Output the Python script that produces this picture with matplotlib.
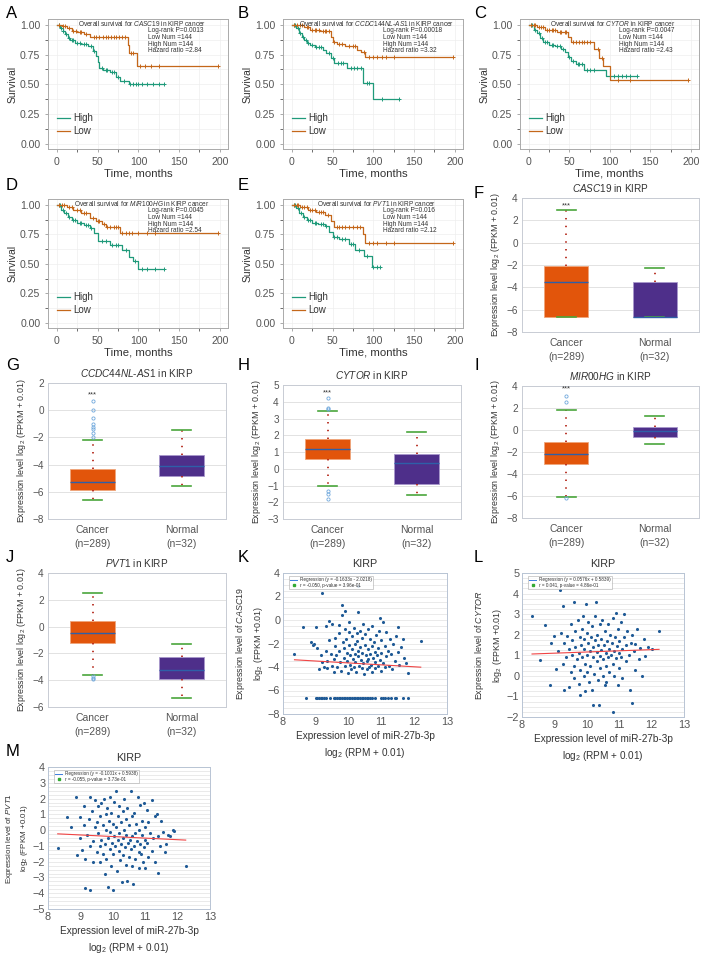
import numpy as np
import matplotlib
matplotlib.use('Agg')
import matplotlib.pyplot as plt
from matplotlib.lines import Line2D
from matplotlib.ticker import MultipleLocator

plt.rcParams['font.family'] = ['Liberation Sans', 'DejaVu Sans']
plt.rcParams['mathtext.fontset'] = 'custom'
plt.rcParams['mathtext.rm'] = 'Liberation Sans'
plt.rcParams['mathtext.it'] = 'Liberation Sans:italic'
plt.rcParams['text.color'] = '#333333'
plt.rcParams['axes.labelcolor'] = '#333333'
plt.rcParams['xtick.color'] = '#555555'
plt.rcParams['ytick.color'] = '#555555'

# ---------------------------------------------------------------------------
# DATOS: curvas de supervivencia (tiempos de evento, supervivencia, censuras)

A_high_t = [0, 4, 7, 10, 13, 16, 22, 30, 38, 44, 48, 50, 52, 57, 65, 72, 78, 88]
A_high_s = [1.0, 0.97, 0.95, 0.92, 0.89, 0.87, 0.85, 0.84, 0.82, 0.78, 0.74, 0.69, 0.64, 0.62, 0.60, 0.56, 0.53, 0.50]
A_high_c = [2, 5, 8, 11, 15, 18, 20, 25, 28, 33, 36, 42, 46, 55, 60, 62, 68, 70, 75, 82, 90, 93, 97, 100, 105, 110, 118, 125, 132]
A_low_t = [0, 6, 12, 18, 25, 33, 40, 87, 89, 98]
A_low_s = [1.0, 0.99, 0.97, 0.95, 0.94, 0.92, 0.90, 0.83, 0.76, 0.65]
A_low_c = [3, 8, 10, 15, 20, 23, 28, 30, 36, 45, 48, 52, 56, 60, 63, 66, 70, 73, 76, 80, 84, 91, 93, 102, 108, 115, 125, 198]

B_high_t = [0, 5, 9, 12, 15, 18, 22, 28, 38, 42, 48, 52, 68, 87, 100]
B_high_s = [1.0, 0.97, 0.93, 0.90, 0.87, 0.85, 0.83, 0.81, 0.79, 0.76, 0.72, 0.68, 0.64, 0.51, 0.38]
B_high_c = [2, 4, 7, 10, 14, 17, 20, 25, 30, 33, 36, 45, 50, 56, 60, 63, 72, 76, 80, 85, 92, 95, 110, 132]
B_low_t = [0, 15, 22, 35, 48, 50, 55, 65, 80, 85, 90]
B_low_s = [1.0, 0.98, 0.96, 0.95, 0.90, 0.86, 0.84, 0.82, 0.79, 0.77, 0.73]
B_low_c = [3, 6, 10, 12, 18, 20, 25, 28, 30, 33, 38, 40, 42, 45, 52, 58, 62, 70, 75, 78, 88, 95, 100, 105, 110, 115, 125, 198]

C_high_t = [0, 6, 10, 14, 18, 25, 32, 40, 45, 48, 52, 58, 68, 95]
C_high_s = [1.0, 0.96, 0.93, 0.89, 0.86, 0.83, 0.82, 0.80, 0.77, 0.73, 0.70, 0.67, 0.62, 0.57]
C_high_c = [2, 4, 8, 12, 16, 20, 22, 28, 30, 35, 38, 42, 50, 55, 60, 62, 65, 72, 75, 80, 100, 105, 110, 115, 120, 125, 133]
C_low_t = [0, 10, 20, 35, 48, 52, 80, 87, 92, 100]
C_low_s = [1.0, 0.98, 0.96, 0.94, 0.90, 0.86, 0.80, 0.72, 0.65, 0.54]
C_low_c = [3, 6, 8, 12, 15, 18, 22, 25, 28, 30, 32, 38, 40, 44, 46, 55, 58, 62, 65, 68, 72, 75, 85, 90, 110, 125, 197]

D_high_t = [0, 5, 9, 13, 18, 25, 33, 40, 45, 50, 65, 80, 88, 93, 100]
D_high_s = [1.0, 0.96, 0.93, 0.90, 0.87, 0.85, 0.83, 0.80, 0.76, 0.69, 0.66, 0.62, 0.56, 0.52, 0.46]
D_high_c = [2, 4, 7, 11, 15, 20, 22, 28, 30, 36, 38, 42, 55, 60, 68, 72, 75, 85, 96, 105, 110, 120, 132]
D_low_t = [0, 12, 20, 30, 40, 48, 55, 60, 78]
D_low_s = [1.0, 0.98, 0.96, 0.93, 0.89, 0.86, 0.84, 0.81, 0.76]
D_low_c = [3, 6, 9, 15, 18, 25, 28, 33, 36, 44, 50, 52, 58, 62, 65, 70, 72, 75, 80, 85, 88, 92, 100, 110, 120, 198]

E_high_t = [0, 5, 9, 13, 18, 25, 32, 40, 46, 50, 58, 70, 78, 88, 98]
E_high_s = [1.0, 0.97, 0.93, 0.90, 0.87, 0.85, 0.84, 0.82, 0.77, 0.73, 0.71, 0.67, 0.62, 0.57, 0.47]
E_high_c = [2, 4, 7, 11, 15, 20, 22, 28, 30, 36, 38, 42, 52, 55, 62, 65, 72, 75, 82, 92, 100, 104, 108]
E_low_t = [0, 10, 20, 30, 40, 48, 52, 87, 90]
E_low_s = [1.0, 0.98, 0.96, 0.94, 0.91, 0.86, 0.81, 0.75, 0.68]
E_low_c = [3, 6, 8, 12, 15, 18, 22, 25, 28, 33, 36, 38, 44, 55, 58, 62, 65, 70, 75, 80, 84, 95, 100, 105, 115, 125, 198]

surv_genes = ['CASC19', 'CCDC144NL-AS1', 'CYTOR', 'MIR100HG', 'PVT1']
surv_p = ['0.0013', '0.00018', '0.0047', '0.0045', '0.016']
surv_hr = ['2.84', '3.32', '2.43', '2.54', '2.12']

# DATOS: diagramas de caja (q1, mediana, q3, bigotes, atipicos)
box_genes = ['CASC19', 'CCDC44NL-AS1', 'CYTOR', 'MIR00HG', 'PVT1']
box_groups = ['Cancer\n(n=289)', 'Normal\n(n=32)']
F_cancer = dict(q1=-6.64, med=-3.5, q3=-2.1, whislo=-6.64, whishi=2.9, fliers=[])
F_normal = dict(q1=-6.64, med=-6.64, q3=-3.5, whislo=-6.64, whishi=-2.25, fliers=[])
G_cancer = dict(q1=-5.85, med=-5.25, q3=-4.3, whislo=-6.6, whishi=-2.2,
                fliers=[-2.0, -1.7, -1.4, -1.2, -1.0, -0.6, 0.0, 0.7])
G_normal = dict(q1=-4.85, med=-4.1, q3=-3.3, whislo=-5.6, whishi=-1.45, fliers=[])
H_cancer = dict(q1=0.6, med=1.15, q3=1.8, whislo=-1.05, whishi=3.45,
                fliers=[3.55, 3.62, 4.2, -1.35, -1.5, -1.8])
H_normal = dict(q1=-0.9, med=0.35, q3=0.9, whislo=-1.55, whishi=2.2, fliers=[])
I_cancer = dict(q1=-3.1, med=-2.15, q3=-1.05, whislo=-6.1, whishi=1.85, fliers=[2.5, 3.1, -6.2])
I_normal = dict(q1=-0.6, med=-0.1, q3=0.3, whislo=-1.25, whishi=1.25, fliers=[])
J_cancer = dict(q1=-1.2, med=-0.5, q3=0.4, whislo=-3.6, whishi=2.5, fliers=[-3.7, -3.8, -3.9])
J_normal = dict(q1=-3.9, med=-3.25, q3=-2.3, whislo=-5.3, whishi=-1.3, fliers=[])
box_stars = [3.3, 1.1, 4.5, 3.7, None]

# DATOS: dispersion miR-27b-3p vs lncRNA
K_points = [(8.35, -2.9), (8.6, -0.6), (8.85, -1.85), (8.9, -2.1), (8.95, -2.0), (9.0, -0.6), (9.05, -2.4),
            (9.1, -4.2), (9.15, -3.0), (9.2, 2.3), (9.2, -3.6), (9.25, -4.0), (9.3, -0.5), (9.3, -2.6),
            (9.35, -3.5), (9.35, -4.1), (9.4, -0.1), (9.4, -1.7), (9.45, -2.9), (9.5, -3.9), (9.5, -0.3),
            (9.55, -3.3), (9.55, -4.4), (9.6, -1.5), (9.6, -2.2), (9.62, -3.0), (9.65, -4.0), (9.7, -0.4),
            (9.7, -1.1), (9.72, -2.6), (9.75, -3.6), (9.78, -4.3), (9.8, 1.3), (9.8, 0.4), (9.82, -1.9),
            (9.85, -2.4), (9.85, -3.2), (9.88, -3.9), (9.9, 0.75), (9.9, -0.8), (9.92, -1.6), (9.95, -2.8),
            (9.95, -3.5), (9.98, -4.5), (10.0, -0.2), (10.0, -1.0), (10.02, -2.1), (10.05, -3.0), (10.05, -3.8),
            (10.08, -4.2), (10.1, -1.4), (10.1, -2.5), (10.12, -3.3), (10.15, -0.7), (10.15, -4.0), (10.18, -2.0),
            (10.2, -2.9), (10.2, -3.6), (10.22, -4.4), (10.25, -1.1), (10.25, -1.8), (10.28, -2.6), (10.3, 2.9),
            (10.3, 0.7), (10.3, -3.1), (10.32, -3.9), (10.35, -0.9), (10.35, -2.3), (10.38, -3.4), (10.4, -4.1),
            (10.4, -1.5), (10.42, -2.8), (10.45, -0.3), (10.45, -3.7), (10.48, -4.6), (10.5, -1.2), (10.5, -2.1),
            (10.52, -3.0), (10.55, -3.5), (10.55, -4.2), (10.58, -0.8), (10.6, -2.5), (10.6, -3.3), (10.62, -4.0),
            (10.65, -1.6), (10.65, -2.9), (10.68, -3.8), (10.7, -0.5), (10.7, -4.4), (10.72, -2.2), (10.75, -3.2),
            (10.78, -1.9), (10.8, -2.7), (10.8, -3.6), (10.82, -4.1), (10.85, -1.3), (10.88, -3.0), (10.9, -2.4),
            (10.9, -3.9), (10.92, -0.9), (10.95, 0.2), (10.95, -3.4), (10.98, -4.3), (11.0, -1.7), (11.0, -2.8),
            (11.05, -0.2), (11.05, -3.7), (11.1, -2.2), (11.1, -4.0), (11.15, -1.0), (11.15, -3.1), (11.2, -2.6),
            (11.22, -3.9), (11.25, -1.6), (11.3, -2.9), (11.32, -4.2), (11.35, -2.0), (11.4, -3.5), (11.45, -1.4),
            (11.5, -0.6), (11.5, -2.7), (11.55, -3.8), (11.6, -2.3), (11.65, -1.6), (11.7, -3.2), (11.75, -3.7),
            (11.8, -4.5), (12.2, -1.8)]
K_floor_y = -6.64
K_floor_x = [8.7, 9.0, 9.05, 9.1, 9.15, 9.2, 9.25, 9.3, 9.42, 9.55, 9.6, 9.65, 9.7, 9.75, 9.8, 9.85, 9.9,
             9.95, 10.0, 10.05, 10.1, 10.15, 10.2, 10.25, 10.3, 10.35, 10.4, 10.45, 10.5, 10.55, 10.6, 10.65,
             10.7, 10.8, 11.0, 11.05, 11.1, 11.2, 11.3, 11.4, 11.45, 11.65, 11.82]
L_points = [(8.31, 2.93), (8.55, 0.75), (8.7, 2.45), (8.86, -0.46), (8.9, 1.6), (9.0, 1.95), (9.05, 0.35),
            (9.1, 1.2), (9.17, 4.16), (9.2, 2.1), (9.25, 0.6), (9.27, 3.39), (9.3, -0.7), (9.3, 1.6), (9.35, 0.9),
            (9.4, 1.95), (9.45, -0.55), (9.45, 1.3), (9.5, 2.5), (9.5, 0.2), (9.55, 1.0), (9.55, 1.75), (9.6, 3.59),
            (9.6, 0.5), (9.62, -0.1), (9.65, 1.4), (9.65, 2.2), (9.7, 0.8), (9.72, 2.7), (9.75, -0.4), (9.75, 1.1),
            (9.78, 1.9), (9.8, 0.3), (9.8, -0.95), (9.82, 1.5), (9.85, 2.3), (9.85, 0.9), (9.88, 2.9), (9.9, 0.0),
            (9.9, 1.3), (9.92, 1.8), (9.95, -0.75), (9.95, 0.6), (9.97, 3.5), (10.0, 2.1), (10.0, 1.0), (10.02, 0.2),
            (10.05, 1.6), (10.05, 2.6), (10.08, -0.3), (10.1, 1.2), (10.1, 0.5), (10.12, 1.9), (10.15, -0.7),
            (10.15, 2.4), (10.18, 0.9), (10.2, 1.4), (10.2, -1.4), (10.22, 0.1), (10.25, 1.75), (10.25, 2.9),
            (10.28, 3.6), (10.3, 0.7), (10.3, 1.15), (10.32, 2.0), (10.35, -0.2), (10.35, 1.5), (10.38, -1.4),
            (10.4, 0.95), (10.4, 2.5), (10.42, 0.4), (10.45, 1.8), (10.45, 1.25), (10.48, 2.7), (10.5, 0.0),
            (10.5, 0.8), (10.52, 1.5), (10.55, -0.45), (10.55, 2.2), (10.58, 1.1), (10.6, -0.3), (10.6, 0.5),
            (10.62, 1.7), (10.65, 2.5), (10.65, 0.9), (10.68, 1.3), (10.7, 0.2), (10.72, 2.0), (10.75, 1.0),
            (10.78, 1.6), (10.8, -1.75), (10.8, 0.6), (10.82, 2.8), (10.85, 1.2), (10.85, 0.0), (10.88, 1.9),
            (10.9, 3.05), (10.9, 0.85), (10.92, 1.45), (10.95, -0.45), (10.95, 2.3), (10.98, 1.1), (11.0, 0.4),
            (11.0, 1.7), (11.05, 2.6), (11.05, 0.9), (11.1, 1.3), (11.1, -0.1), (11.15, 3.0), (11.15, 1.9),
            (11.2, 0.7), (11.2, 1.5), (11.25, 2.2), (11.3, 1.0), (11.32, -0.7), (11.35, 1.6), (11.38, -1.3),
            (11.4, 2.0), (11.45, 1.2), (11.5, 0.3), (11.5, 1.55), (11.55, 2.3), (11.6, 0.8), (11.65, 1.35),
            (11.7, 0.0), (11.75, 1.8), (11.8, 0.95), (11.9, 1.4), (12.0, 1.3), (12.23, 2.2)]
M_points = [(8.3, -1.15), (8.6, 0.8), (8.7, 0.2), (8.85, 2.1), (8.9, -1.6), (9.0, 0.8), (9.0, -0.5),
            (9.05, -1.25), (9.1, 1.5), (9.1, 0.3), (9.15, -3.7), (9.15, -1.8), (9.2, -0.3), (9.25, 0.7),
            (9.3, 2.1), (9.3, -3.8), (9.3, -1.0), (9.35, 1.2), (9.4, -0.7), (9.4, -2.0), (9.45, 0.2), (9.45, 1.9),
            (9.5, -1.4), (9.5, 0.5), (9.55, -0.2), (9.55, 1.5), (9.6, -1.0), (9.6, -2.0), (9.62, 0.9),
            (9.65, -0.6), (9.65, 1.7), (9.7, -1.5), (9.7, 0.3), (9.72, 2.0), (9.75, -0.9), (9.75, -2.8),
            (9.78, 1.0), (9.8, 0.0), (9.8, -1.8), (9.82, 1.4), (9.85, -3.6), (9.85, -0.5), (9.88, 0.6),
            (9.9, -1.2), (9.9, 2.1), (9.92, -0.1), (9.95, 1.1), (9.95, -2.3), (9.98, -0.8), (10.0, -3.8),
            (10.0, 0.4), (10.02, -1.5), (10.05, 1.8), (10.05, -0.4), (10.08, -1.0), (10.1, 2.45), (10.1, 0.2),
            (10.12, -2.6), (10.15, -0.6), (10.15, 0.9), (10.18, -1.3), (10.2, 1.5), (10.2, -0.2), (10.22, -1.9),
            (10.25, 0.5), (10.25, -0.9), (10.28, -3.3), (10.3, 1.2), (10.3, -0.5), (10.32, -1.6), (10.35, 0.0),
            (10.35, 2.0), (10.38, -1.1), (10.4, -2.2), (10.4, 0.7), (10.42, -0.3), (10.45, -3.2), (10.45, 1.4),
            (10.48, -0.8), (10.5, -1.7), (10.5, 0.3), (10.52, -0.6), (10.55, 2.5), (10.55, -1.2), (10.58, 0.9),
            (10.6, -2.3), (10.6, -0.4), (10.62, -3.4), (10.65, 1.1), (10.65, -1.0), (10.68, -0.2), (10.7, -1.8),
            (10.72, 0.4), (10.75, -0.7), (10.78, 2.1), (10.8, -1.4), (10.8, -2.4), (10.82, 0.0), (10.85, 1.6),
            (10.85, -0.9), (10.88, -1.5), (10.9, 0.6), (10.9, -0.3), (10.92, -2.0), (10.95, 1.7), (10.95, -1.1),
            (10.98, -0.6), (11.0, 0.2), (11.0, -2.4), (11.05, 1.3), (11.05, -0.8), (11.1, -1.7), (11.1, 0.5),
            (11.15, -0.2), (11.2, 1.9), (11.2, -1.3), (11.25, -0.5), (11.3, 0.9), (11.3, -2.0), (11.35, 1.0),
            (11.4, -2.7), (11.4, -0.4), (11.45, -1.0), (11.5, 0.6), (11.55, -0.1), (11.6, -1.4), (11.65, -0.9),
            (11.7, -0.3), (11.75, -0.4), (11.85, 0.0), (11.9, -0.05), (12.25, -2.3)]
scatter_genes = ['CASC19', 'CYTOR', 'PVT1']
reg_coef = [(-0.1633, -2.0218), (0.0576, 0.5839), (-0.1001, 0.5938)]
reg_labels = ['Regression (y = -0.1633x - 2.0218)', 'Regression (y = 0.0576x + 0.5839)',
              'Regression (y = -0.1001x + 0.5938)']
r_labels = ['r = -0.050, p-value = 3.96e-01', 'r = 0.041, p-value = 4.86e-01',
            'r = -0.055, p-value = 3.73e-01']

# colores
C_HIGH = '#1f9a7a'
C_LOW = '#c4671a'
C_CANCER = '#e2550b'
C_NORMAL = '#4e2f8a'
C_DOT = '#1f5a96'

W, H = 706, 955
fig = plt.figure(figsize=(W/100, H/100), dpi=100)


def add_ax(x0, y0, x1, y1):
    # coordenadas en pixeles (origen arriba a la izquierda)
    return fig.add_axes([x0/W, 1 - y1/H, (x1 - x0)/W, (y1 - y0)/H])


def itl(gene):
    return '-'.join(r'$\mathit{%s}$' % p for p in gene.split('-'))


def letter(x, y, s):
    fig.text(x/W, 1 - y/H, s, fontsize=12, color='black', va='center', ha='left')


def plot_km(ax, hi, lo, gene, p, hr):
    for (t, s, c), col, lab in ((hi, C_HIGH, 'High'), (lo, C_LOW, 'Low')):
        t = np.array(t + [max(c)])
        s = np.array(s + [s[-1]])
        ax.step(t, s, where='post', color=col, lw=0.9, label=lab)
        c = np.array(c)
        idx = np.searchsorted(t, c, side='right') - 1
        ax.plot(c, s[idx], '+', color=col, ms=3.2, mew=0.7)
    ax.set_xlim(-11, 210)
    ax.set_ylim(-0.045, 1.05)
    ax.set_xticks([0, 50, 100, 150, 200])
    ax.set_yticks([0, 0.25, 0.5, 0.75, 1.0])
    ax.set_yticklabels(['0.00', '0.25', '0.50', '0.75', '1.00'])
    ax.xaxis.set_minor_locator(MultipleLocator(25))
    ax.yaxis.set_minor_locator(MultipleLocator(0.125))
    ax.grid(True, which='both', color='#eeeeee', lw=0.5)
    ax.set_axisbelow(True)
    for sp in ax.spines.values():
        sp.set_color('#aaaaaa')
        sp.set_linewidth(0.7)
    ax.tick_params(labelsize=7.6, length=2, width=0.5, color='#888888')
    ax.set_xlabel('Time, months', fontsize=8.2, labelpad=1)
    ax.set_ylabel('Survival', fontsize=7.5, labelpad=2)
    ax.legend(loc=(0.03, 0.07), fontsize=7, frameon=False, handlelength=1.3,
              handletextpad=0.3, labelspacing=0.3)
    ax.text(0.52, 0.965, 'Overall survival for ' + itl(gene) + ' in KIRP cancer',
            transform=ax.transAxes, fontsize=4.7, ha='center', va='center')
    lines = ['Log-rank P=' + p, 'Low Num =144', 'High Num =144', 'Hazard ratio =' + hr]
    for i, l in enumerate(lines):
        ax.text(0.555, 0.91 - i*0.052, l, transform=ax.transAxes, fontsize=4.7,
                ha='left', va='center')


def plot_box(ax, cancer, normal, gene, ylim, ystep, star):
    b = ax.bxp([dict(cancer), dict(normal)], positions=[1, 2], widths=0.5, patch_artist=True,
               showfliers=True, capwidths=[0.22, 0.22],
               medianprops=dict(color='#2e5fa8', lw=1.0),
               whiskerprops=dict(color='#b52a1c', lw=1.3, linestyle=(0, (0.8, 3.5))),
               capprops=dict(color='#4aa63c', lw=1.2),
               flierprops=dict(marker='o', mfc='none', mec='#6fa8dc', ms=2.3, mew=0.6, ls='none'))
    for patch, fc, ec in zip(b['boxes'], [C_CANCER, C_NORMAL], ['#efa57a', '#a898cc']):
        patch.set_facecolor(fc)
        patch.set_edgecolor(ec)
        patch.set_linewidth(0.6)
    ax.set_xlim(0.5, 2.5)
    ax.set_ylim(*ylim)
    ax.yaxis.set_major_locator(MultipleLocator(ystep))
    ax.set_xticks([1, 2])
    ax.set_xticklabels(box_groups, fontsize=7.5, linespacing=1.6)
    ax.tick_params(axis='x', length=0, pad=4)
    ax.tick_params(axis='y', labelsize=7.2, length=0, pad=3)
    ax.grid(True, axis='y', color='#dddddd', lw=0.6)
    ax.set_axisbelow(True)
    for sp in ax.spines.values():
        sp.set_color('#c8ccd4')
        sp.set_linewidth(0.7)
    ax.set_title(itl(gene) + ' in KIRP', fontsize=7.2, pad=4)
    ax.set_ylabel(r'Expression level log$_2$ (FPKM + 0.01)', fontsize=6.4, labelpad=3)
    if star is not None:
        ax.text(1, star, '***', ha='center', va='center', fontsize=5.5)


def plot_scatter(ax, pts, extra_x, extra_y, gene, coef, reg_lab, r_lab, ylim, ystep, minor, ylab_fs):
    x = np.array([p[0] for p in pts] + list(extra_x))
    y = np.array([p[1] for p in pts] + [extra_y] * len(extra_x))
    ax.scatter(x, y, s=5, color=C_DOT, lw=0, zorder=3)
    xx = np.array([x.min(), x.max()])
    ax.plot(xx, coef[0]*xx + coef[1], color='#f04444', lw=0.8, zorder=4)
    ax.set_xlim(8, 13)
    ax.set_ylim(*ylim)
    ax.set_xticks([8, 9, 10, 11, 12, 13])
    ax.yaxis.set_major_locator(MultipleLocator(ystep))
    ax.yaxis.set_minor_locator(MultipleLocator(minor))
    ax.grid(True, axis='y', which='both', color='#e2e2e2', lw=0.5)
    ax.set_axisbelow(True)
    for sp in ax.spines.values():
        sp.set_color('#b8c4d4')
        sp.set_linewidth(0.7)
    ax.tick_params(labelsize=7.8, length=0, pad=2)
    ax.tick_params(which='minor', length=0)
    ax.set_title('KIRP', fontsize=7.8, pad=4)
    ax.set_xlabel('Expression level of miR-27b-3p\n' + r'log$_2$ (RPM + 0.01)', fontsize=7.2,
                  linespacing=1.5, labelpad=3)
    ax.set_ylabel('Expression level of ' + itl(gene) + '\n' + r'log$_2$ (FPKM +0.01)',
                  fontsize=ylab_fs, linespacing=1.5, labelpad=2)
    hnd = [Line2D([], [], color='#3b7ddd', lw=0.7),
           Line2D([], [], marker='s', color='#33aa33', ls='none', ms=1.8)]
    leg = ax.legend(hnd, [reg_lab, r_lab], loc='upper left', bbox_to_anchor=(0.02, 0.995),
                    fontsize=3.3, frameon=True, fancybox=False, borderpad=0.3,
                    handlelength=1.6, labelspacing=0.15, handletextpad=0.5)
    leg.get_frame().set_edgecolor('#aaaaaa')
    leg.get_frame().set_linewidth(0.5)


# ---------------------------------------------------------------------------
# FILA 1 y 2: supervivencia
km_boxes = [(48, 19, 228, 149), (283, 19, 463, 149), (520, 19, 699, 149),
            (48, 199, 228, 328), (283, 199, 463, 328)]
km_data = [((A_high_t, A_high_s, A_high_c), (A_low_t, A_low_s, A_low_c)),
           ((B_high_t, B_high_s, B_high_c), (B_low_t, B_low_s, B_low_c)),
           ((C_high_t, C_high_s, C_high_c), (C_low_t, C_low_s, C_low_c)),
           ((D_high_t, D_high_s, D_high_c), (D_low_t, D_low_s, D_low_c)),
           ((E_high_t, E_high_s, E_high_c), (E_low_t, E_low_s, E_low_c))]
for i in range(5):
    ax = add_ax(*km_boxes[i])
    plot_km(ax, km_data[i][0], km_data[i][1], surv_genes[i], surv_p[i], surv_hr[i])

# CAJAS
ax = add_ax(522, 198, 699, 332)
plot_box(ax, F_cancer, F_normal, box_genes[0], (-8, 4), 2, box_stars[0])
ax = add_ax(48, 383, 226, 519)
plot_box(ax, G_cancer, G_normal, box_genes[1], (-8, 2), 2, box_stars[1])
ax = add_ax(283, 385, 461, 519)
plot_box(ax, H_cancer, H_normal, box_genes[2], (-3, 5), 1, box_stars[2])
ax = add_ax(522, 386, 699, 518)
plot_box(ax, I_cancer, I_normal, box_genes[3], (-8, 4), 2, box_stars[3])
ax = add_ax(48, 573, 226, 707)
plot_box(ax, J_cancer, J_normal, box_genes[4], (-6, 4), 2, box_stars[4])

# DISPERSION
ax = add_ax(283, 573, 447, 714)
plot_scatter(ax, K_points, K_floor_x, K_floor_y, scatter_genes[0], reg_coef[0], reg_labels[0],
             r_labels[0], (-8, 4), 2, 0.5, 6.4)
ax = add_ax(522, 573, 684, 717)
plot_scatter(ax, L_points, [], 0, scatter_genes[1], reg_coef[1], reg_labels[1],
             r_labels[1], (-2, 5), 1, 0.25, 6.4)
ax = add_ax(48, 767, 210, 909)
plot_scatter(ax, M_points, [], 0, scatter_genes[2], reg_coef[2], reg_labels[2],
             r_labels[2], (-5, 4), 1, 0.25, 5.8)

# letras de panel
for s, x, y in [('A', 6, 14), ('B', 238, 14), ('C', 474, 14), ('D', 6, 186), ('E', 238, 186),
                ('F', 474, 194), ('G', 6, 366), ('H', 238, 366), ('I', 474, 366),
                ('J', 6, 557), ('K', 238, 557), ('L', 474, 557), ('M', 6, 751)]:
    letter(x, y, s)

fig.savefig('out.png', dpi=100, facecolor='white')
